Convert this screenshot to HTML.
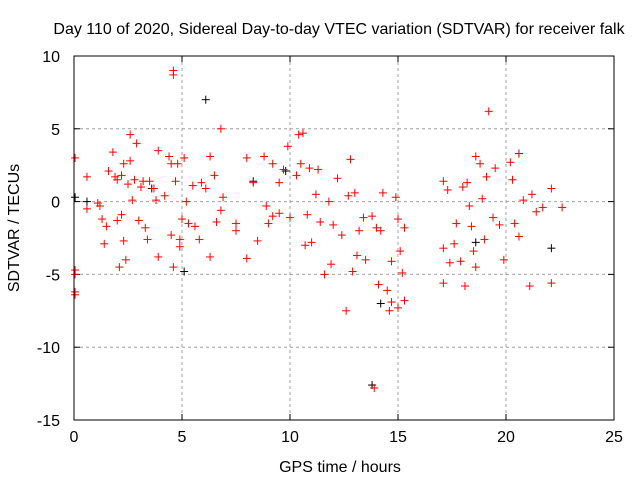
<!DOCTYPE html>
<html><head><meta charset="utf-8"><style>
body{margin:0;background:#fff}
svg text{font-family:"Liberation Sans",sans-serif;font-size:16px;fill:#000}
</style></head><body>
<svg id="c" width="640" height="480"></svg>
<script>
const xTicks=[0,5,10,15,20,25];
const yTicks=[10,5,0,-5,-10,-15];
const redX=[0.05,0.05,0.05,0.05,0.05,0.6,0.6,1.1,1.2,1.3,1.4,1.5,1.6,1.8,1.9,2.0,2.0,2.1,2.2,2.2,2.3,2.3,2.4,2.5,2.6,2.6,2.7,2.8,2.9,3.0,3.1,3.2,3.3,3.4,3.5,3.7,3.8,3.9,3.9,4.2,4.4,4.5,4.6,4.6,4.5,4.6,4.7,4.8,4.9,4.9,5.0,5.1,5.2,5.3,5.5,5.6,5.8,5.9,6.1,6.3,6.3,6.5,6.6,6.8,6.8,6.9,7.5,7.5,8.0,8.0,8.3,8.5,8.8,8.9,9.0,9.2,9.2,9.5,9.5,9.7,9.9,10.0,10.3,10.4,10.6,10.5,10.7,10.8,10.9,11.0,11.2,11.3,11.4,11.6,11.8,11.9,12.0,12.2,12.4,12.6,12.7,12.8,12.9,13.0,13.1,13.2,13.4,13.5,13.8,13.9,14.0,14.1,14.2,14.3,14.5,14.6,14.7,14.7,14.9,15.0,15.0,15.1,15.2,15.3,15.3,17.1,17.1,17.1,17.3,17.4,17.6,17.7,17.9,18.0,18.1,18.2,18.3,18.4,18.5,18.6,18.6,18.8,18.9,19.0,19.1,19.2,19.4,19.5,19.7,19.9,20.2,20.3,20.4,20.6,20.6,20.8,21.1,21.2,21.4,21.7,22.1,22.1,22.6];
const redY=[3.0,-4.7,-5.0,-6.2,-6.4,1.7,-0.5,-0.1,-0.3,-1.2,-2.9,-1.7,2.1,3.4,1.7,1.5,-1.3,-4.5,1.8,-0.9,2.6,-2.7,-4.0,1.2,4.6,2.8,0.1,1.5,4.0,-1.3,1.0,1.4,-1.8,-2.6,1.4,0.9,0.1,3.5,-3.8,0.4,3.1,2.6,9.0,8.7,-2.3,-4.5,1.4,2.6,-2.6,-3.1,-1.2,3.0,0.0,-1.5,1.1,-1.7,-2.6,1.3,0.9,3.1,-3.8,1.8,-1.4,5.0,-0.6,0.3,-1.5,-2.0,3.0,-3.9,1.3,-2.7,3.1,-0.3,-1.5,2.6,-1.0,1.3,-0.8,2.2,3.8,-1.1,1.8,4.6,4.7,2.6,-3.0,-0.9,2.3,-2.8,0.5,2.2,-1.4,-5.0,0.0,-4.3,-1.6,1.6,-2.3,-7.5,0.4,2.9,-4.8,0.6,-3.7,-2.0,-1.1,-4.0,-1.0,-12.8,-1.8,-5.7,-2.0,0.6,-6.1,-7.5,-4.1,-6.9,0.3,-1.2,-7.3,-3.4,-4.9,-1.8,-6.8,1.4,-3.2,-5.6,0.8,-4.2,-2.9,-1.5,-4.1,1.0,-5.8,1.3,-0.3,-1.7,-3.4,-4.5,3.1,2.6,0.2,-2.6,1.7,6.2,-1.1,2.3,-1.6,-4.0,2.7,1.5,-1.5,3.3,-2.4,0.1,-5.8,0.5,-0.7,-0.4,0.9,-5.6,-0.4];
const blackX=[0.05,6.1,5.1,8.3,13.8,14.2,18.6,20.6,22.1,9.8,3.6,0.6];
const blackY=[0.3,7.0,-4.8,1.4,-12.6,-7.0,-2.8,3.3,-3.2,2.1,0.9,0.0];
const L=74,R=614,T=56,B=420;
const sx=v=>L+(v-0)/25*(R-L);
const sy=v=>T+(10-v)/25*(B-T);
const svg=document.getElementById('c');const NS='http://www.w3.org/2000/svg';
function mk(t,a,p){const e=document.createElementNS(NS,t);for(const k in a)e.setAttribute(k,a[k]);(p||svg).appendChild(e);return e;}
let e;
xTicks.forEach(v=>{const x=sx(v);
 if(v>0&&v<25){e=mk('line',{x1:x,x2:x,y1:T,y2:B,stroke:'#a0a0a0','stroke-dasharray':'3,3'});}
 e=mk('line',{x1:x,x2:x,y1:B,y2:B-6,stroke:'#000'});
 e=mk('line',{x1:x,x2:x,y1:T,y2:T+6,stroke:'#000'});
 e=mk('text',{x:x,y:B+22,'text-anchor':'middle'});e.textContent=v;});
yTicks.forEach(v=>{const y=sy(v);
 if(v<10&&v>-15){e=mk('line',{x1:L,x2:R,y1:y,y2:y,stroke:'#a0a0a0','stroke-dasharray':'3,3'});}
 e=mk('line',{x1:L,x2:L+6,y1:y,y2:y,stroke:'#000'});
 e=mk('line',{x1:R,x2:R-6,y1:y,y2:y,stroke:'#000'});
 e=mk('text',{x:L-14,y:y+6,'text-anchor':'end'});e.textContent=v;});
function plus(x,y,c,n){const g=mk('g',{stroke:c,'stroke-width':1});
 mk('line',{x1:x-4,x2:x+4,y1:y,y2:y},g);mk('line',{x1:x,x2:x,y1:y-4,y2:y+4},g);}
blackX.forEach((v,i)=>plus(sx(v),sy(blackY[i]),'#000','black-point'));
redX.forEach((v,i)=>plus(sx(v),sy(redY[i]),'#ff0000','red-point'));
e=mk('rect',{x:L,y:T,width:R-L,height:B-T,fill:'none',stroke:'#000'});
e=mk('text',{x:339,y:34,'text-anchor':'middle'});e.textContent='Day 110 of 2020, Sidereal Day-to-day VTEC variation (SDTVAR) for receiver falk';
e=mk('text',{x:340,y:472,'text-anchor':'middle'});e.textContent='GPS time / hours';
e=mk('text',{x:19,y:228,'text-anchor':'middle',transform:'rotate(-90 19 228)'});e.textContent='SDTVAR / TECUs';
</script>
</body></html>
